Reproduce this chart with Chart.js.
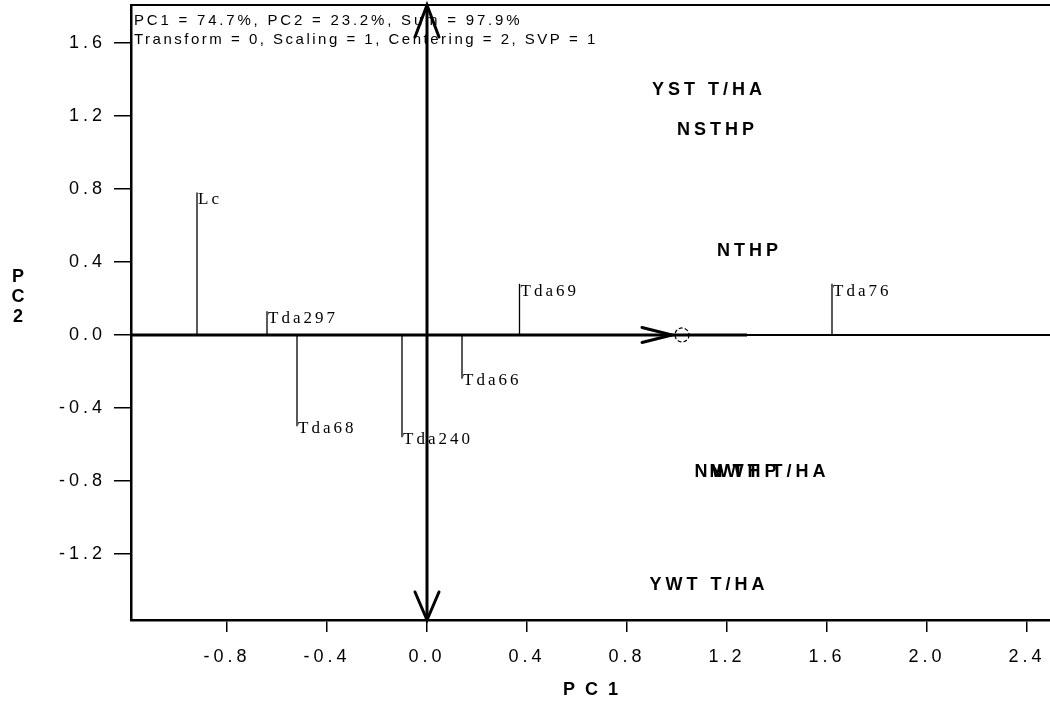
<!DOCTYPE html>
<html>
<head>
<meta charset="utf-8">
<script src="https://cdn.jsdelivr.net/npm/chart.js@4/dist/chart.umd.min.js"></script>
<style>
html, body { margin: 0; padding: 0; background: #fff; }
#wrap { width: 1050px; height: 706px; }
</style>
</head>
<body>
<div id="wrap"><canvas id="myChart"></canvas></div>
<script>
let xTicks = [-0.8, -0.4, 0.0, 0.4, 0.8, 1.2, 1.6, 2.0, 2.4]
let yTicks = [-1.2, -0.8, -0.4, 0.0, 0.4, 0.8, 1.2, 1.6]
let xRange = [-1.184, 2.492]
let yRange = [-1.56, 1.806]

// site scores, each drawn as a drop line to the PC1 axis
let siteNames = ['Lc', 'Tda297', 'Tda68', 'Tda240', 'Tda66', 'Tda69', 'Tda76']
let siteX = [-0.92, -0.64, -0.52, -0.10, 0.14, 0.37, 1.62]
let siteY = [0.78, 0.13, -0.50, -0.56, -0.24, 0.28, 0.28]

// variable labels
let varNames = ['YST T/HA', 'NSTHP', 'NTHP', 'NWTHP', 'NWT T/HA', 'YWT T/HA']
let varX = [0.90, 1.00, 1.16, 1.07, 1.13, 0.89]
let varY = [1.34, 1.12, 0.46, -0.75, -0.75, -1.37]

// axis arrows
let pc1Shaft = [xRange[0], 1.28]
let pc1Tip = 0.98
let pc1Marker = 1.02
let pc2Shaft = [yRange[0], yRange[1]]

let infoLines = ['PC1 = 74.7%, PC2 = 23.2%, Sum = 97.9%', 'Transform = 0, Scaling = 1, Centering = 2, SVP = 1']

let lineSet = (pts, width) => ({
    data: pts,
    showLine: true,
    borderColor: '#000',
    borderWidth: width,
    pointRadius: 0,
    fill: false
})

let datasets = []
datasets.push(lineSet([{x: xRange[0], y: 0}, {x: xRange[1], y: 0}], 2))
datasets.push(lineSet([{x: pc1Shaft[0], y: 0}, {x: pc1Shaft[1], y: 0}], 3))
datasets.push(lineSet([{x: 0, y: pc2Shaft[0]}, {x: 0, y: pc2Shaft[1]}], 3))
siteNames.forEach((n, i) => {
    datasets.push(lineSet([{x: siteX[i], y: 0}, {x: siteX[i], y: siteY[i]}], 1.3))
})

let arrowHead = (ctx, tx, ty, ux, uy, len, half) => {
    ctx.beginPath()
    ctx.moveTo(tx - ux * len - uy * half, ty - uy * len + ux * half)
    ctx.lineTo(tx, ty)
    ctx.lineTo(tx - ux * len + uy * half, ty - uy * len - ux * half)
    ctx.stroke()
}

let biplotDecor = {
    id: 'biplotDecor',
    beforeDraw: (chart) => {
        chart.ctx.letterSpacing = '4px'
    },
    afterDatasetsDraw: (chart) => {
        let ctx = chart.ctx
        let xs = chart.scales.x
        let ys = chart.scales.y
        let area = chart.chartArea
        ctx.save()
        ctx.strokeStyle = '#000'
        ctx.fillStyle = '#000'
        ctx.lineCap = 'round'

        // top frame line
        ctx.lineWidth = 2
        ctx.beginPath()
        ctx.moveTo(area.left, area.top)
        ctx.lineTo(area.right, area.top)
        ctx.stroke()

        // arrow heads
        ctx.lineWidth = 3
        let x0 = xs.getPixelForValue(0)
        let y0 = ys.getPixelForValue(0)
        arrowHead(ctx, x0, ys.getPixelForValue(pc2Shaft[1]), 0, -1, 32, 12)
        arrowHead(ctx, x0, ys.getPixelForValue(pc2Shaft[0]), 0, 1, 28, 12)
        arrowHead(ctx, xs.getPixelForValue(pc1Tip), y0, 1, 0, 30, 7.5)
        ctx.lineWidth = 1.2
        ctx.setLineDash([3, 3])
        ctx.beginPath()
        ctx.arc(xs.getPixelForValue(pc1Marker), y0, 7, 0, Math.PI * 2)
        ctx.stroke()
        ctx.setLineDash([])

        // site labels
        ctx.font = '17px "Liberation Serif"'
        ctx.letterSpacing = '3px'
        ctx.textAlign = 'left'
        siteNames.forEach((n, i) => {
            let px = xs.getPixelForValue(siteX[i]) + 1
            let py = ys.getPixelForValue(siteY[i])
            if (siteY[i] >= 0) {
                ctx.textBaseline = 'top'
                ctx.fillText(n, px, py - 1)
            } else {
                ctx.textBaseline = 'middle'
                ctx.fillText(n, px, py + 2)
            }
        })

        // variable labels
        ctx.font = 'bold 18px "Liberation Sans"'
        ctx.letterSpacing = '4px'
        ctx.textBaseline = 'middle'
        varNames.forEach((n, i) => {
            ctx.fillText(n, xs.getPixelForValue(varX[i]), ys.getPixelForValue(varY[i]))
        })

        // info box text
        ctx.font = '15px "Liberation Sans"'
        ctx.letterSpacing = '2.8px'
        ctx.fillText(infoLines[0], area.left + 3, area.top + 16)
        ctx.letterSpacing = '2.5px'
        ctx.fillText(infoLines[1], area.left + 3, area.top + 35)

        // axis titles
        ctx.font = 'bold 18px "Liberation Sans"'
        ctx.letterSpacing = '0px'
        ctx.textAlign = 'center'
        ;['P', 'C', '2'].forEach((c, i) => {
            ctx.fillText(c, 18, 277 + i * 20)
        })
        ctx.letterSpacing = '10px'
        ctx.fillText('PC1', (area.left + area.right) / 2 + 5, 690)
        ctx.restore()
    }
}

let ctx = document.getElementById('myChart').getContext('2d')
let chart = new Chart(ctx, {
    type: 'scatter',
    data: { datasets: datasets },
    plugins: [biplotDecor],
    options: {
        responsive: true,
        maintainAspectRatio: false,
        animation: false,
        events: [],
        layout: { padding: { top: 5, right: 0, left: 0, bottom: 0 } },
        plugins: { legend: { display: false }, tooltip: { enabled: false } },
        scales: {
            x: {
                type: 'linear',
                min: xRange[0],
                max: xRange[1],
                afterBuildTicks: (s) => { s.ticks = xTicks.map(v => ({value: v})) },
                afterFit: (s) => { s.height = 86; s.paddingLeft = 0; s.paddingRight = 0 },
                ticks: {
                    autoSkip: false,
                    maxRotation: 0,
                    color: '#000',
                    padding: 14,
                    font: { family: '"Liberation Sans"', size: 18 },
                    callback: (v) => Number(v).toFixed(1)
                },
                grid: { drawOnChartArea: false, drawTicks: true, tickLength: 12, color: '#000', lineWidth: 1.5 },
                border: { display: true, color: '#000', width: 2.5 }
            },
            y: {
                type: 'linear',
                min: yRange[0],
                max: yRange[1],
                afterBuildTicks: (s) => { s.ticks = yTicks.map(v => ({value: v})) },
                afterFit: (s) => { s.width = 131; s.paddingTop = 0; s.paddingBottom = 0 },
                ticks: {
                    autoSkip: false,
                    color: '#000',
                    padding: 8,
                    font: { family: '"Liberation Sans"', size: 18 },
                    callback: (v) => Number(v).toFixed(1)
                },
                grid: { drawOnChartArea: false, drawTicks: true, tickLength: 17, color: '#000', lineWidth: 1.5 },
                border: { display: true, color: '#000', width: 2.5 }
            }
        }
    }
})
</script>
</body>
</html>
